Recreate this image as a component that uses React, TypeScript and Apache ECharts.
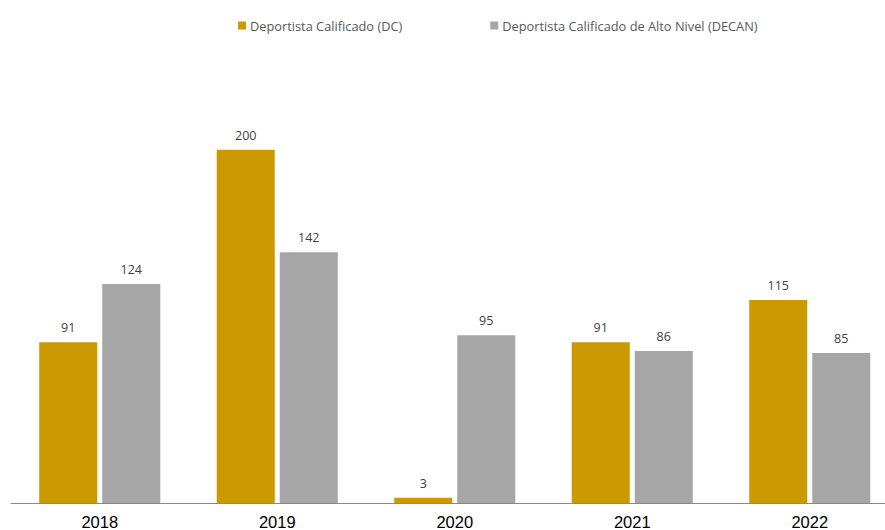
import React, { useEffect, useRef } from "react";
import * as echarts from "echarts";

const categories = ["2018", "2019", "2020", "2021", "2022"];
const dcValues = [91, 200, 3, 91, 115];
const decanValues = [124, 142, 95, 86, 85];
const seriesNames = ["Deportista Calificado (DC)", "Deportista Calificado de Alto Nivel (DECAN)"];

export default function App() {
  const ref = useRef<HTMLDivElement>(null);
  useEffect(() => {
    if (!ref.current) return;
    const chart = echarts.init(ref.current, null, { renderer: "svg" });
    const labelStyle = {
      show: true,
      position: "top" as const,
      distance: 8,
      color: "#404040",
      fontSize: 12.5,
      fontFamily: "Open Sans",
    };
    chart.setOption({
      animation: false,
      backgroundColor: "#ffffff",
      legend: {
        left: 233,
        top: 14,
        itemWidth: 8,
        itemHeight: 8,
        itemGap: 88,
        icon: "rect",
        textStyle: { color: "#595959", fontSize: 12.8, fontFamily: "Open Sans", padding: [0, 0, 0, -1] },
        data: seriesNames,
      },
      grid: { left: 11, top: 61.5, width: 887.5, bottom: 26, containLabel: false },
      xAxis: {
        type: "category",
        data: categories,
        axisTick: { show: false },
        axisLine: { lineStyle: { color: "#898989", width: 1 } },
        axisLabel: { color: "#000000", fontSize: 16.5, fontFamily: "Liberation Sans, Arial", margin: 10 },
      },
      yAxis: {
        type: "value",
        min: 0,
        max: 250,
        show: false,
        splitLine: { show: false },
      },
      series: [
        {
          name: seriesNames[0],
          type: "bar",
          data: dcValues,
          barGap: "8.6%",
          barCategoryGap: "31.8%",
          itemStyle: { color: "#CC9900" },
          label: labelStyle,
        },
        {
          name: seriesNames[1],
          type: "bar",
          data: decanValues,
          itemStyle: { color: "#A6A6A6" },
          label: labelStyle,
        },
      ],
    });
    return () => chart.dispose();
  }, []);
  return (
    <div style={{ position: "absolute", left: 0, top: 0, width: 885, height: 530, overflow: "hidden" }}>
      <div ref={ref} style={{ width: 905, height: 530 }} />
    </div>
  );
}
